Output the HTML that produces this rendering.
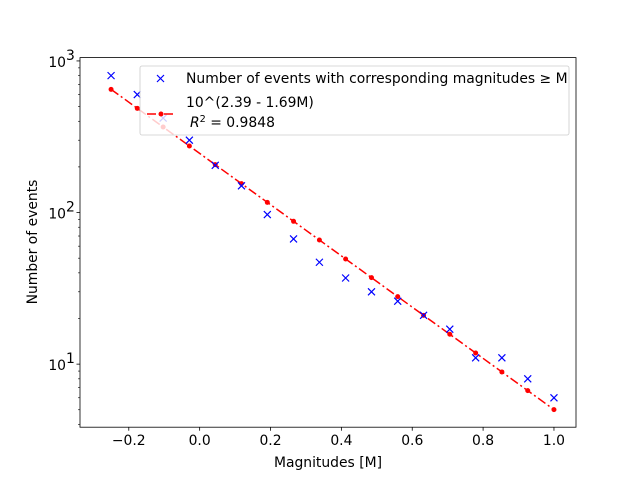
<!DOCTYPE html>
<html><head><meta charset="utf-8"><style>
body{margin:0;background:#fff}
svg text{font-family:"DejaVu Sans","Liberation Sans",sans-serif;font-size:13.9px;fill:#000}
</style></head><body>
<svg id="chart" width="640" height="480" xmlns="http://www.w3.org/2000/svg">
<rect width="640" height="480" fill="#fff"/>
<g id="plot"></g>
<rect x="80" y="57.6" width="496" height="369.6" fill="none" stroke="#000" stroke-width="0.8"/>
<g id="axes"></g>
<text x="328" y="467" text-anchor="middle">Magnitudes [M]</text>
<text transform="translate(37,242) rotate(-90)" text-anchor="middle">Number of events</text>
<g>
<rect x="140" y="66" width="429" height="69" rx="2" fill="#fff" fill-opacity="0.8" stroke="#ccc" stroke-width="0.8"/>
<path d="M157,75l7,7M164,75l-7,7" stroke="#0000ff" stroke-width="1.2"/>
<text x="186" y="83">Number of events with corresponding magnitudes ≥ M</text>
<line x1="147" y1="114" x2="175" y2="114" stroke="#ff0000" stroke-width="1.5" stroke-dasharray="9,3,2,3"/>
<circle cx="161" cy="114" r="2.5" fill="#ff0000"/>
<text x="186" y="107">10^(2.39 - 1.69M)</text>
<text x="190" y="127"><tspan font-style="italic">R</tspan><tspan font-size="9.7" dy="-5">2</tspan><tspan dy="5"> = 0.9848</tspan></text>
</g>
</svg>
<script>
const magnitudes=[-0.25,-0.176,-0.103,-0.029,0.044,0.118,0.191,0.265,0.338,0.412,0.485,0.559,0.632,0.706,0.779,0.853,0.926,1.0];
const counts=[800,600,420,300,205,150,97,67,47,37,30,26,21,17,11,11,8,6];
const fitA=[2.39];
const fitB=[1.69];
const xTicks=[-0.2,0.0,0.2,0.4,0.6,0.8,1.0];
const xTickLabels=["−0.2","0.0","0.2","0.4","0.6","0.8","1.0"];
const yTicks=[1,2,3];
const yTickLabels=["10","10","10"];
const NS="http://www.w3.org/2000/svg";
const X0=80,X1=576,Y0=427.2,Y1=57.6,xmin=-0.3377,xmax=1.0622,lmin=0.584,lmax=3.022;
const sx=v=>X0+(v-xmin)/(xmax-xmin)*(X1-X0);
const sy=v=>Y0-(Math.log10(v)-lmin)/(lmax-lmin)*(Y0-Y1);
function mk(t,a,p){const e=document.createElementNS(NS,t);for(const k in a)e.setAttribute(k,a[k]);p.appendChild(e);return e;}
const plot=document.getElementById('plot'),axes=document.getElementById('axes');
const fit=magnitudes.map(m=>Math.pow(10,fitA[0]-fitB[0]*m));
const fl=mk('polyline',{points:magnitudes.map((m,i)=>sx(m)+','+sy(fit[i])).join(' '),fill:'none',stroke:'#ff0000','stroke-width':1.5,'stroke-dasharray':'9,3,2,3'},plot);


magnitudes.forEach((m,i)=>{
 const c=mk('circle',{cx:sx(m),cy:sy(fit[i]),r:2.5,fill:'#ff0000'},plot);
 
 
 const x=sx(m),y=sy(counts[i]);
 const p=mk('path',{d:`M${x-3.5},${y-3.5}l7,7M${x+3.5},${y-3.5}l-7,7`,stroke:'#0000ff','stroke-width':1.2},plot);
 
 
});
xTicks.forEach((t,i)=>{
 const x=sx(t);
 mk('line',{x1:x,x2:x,y1:Y0,y2:Y0+3.5,stroke:'#000','stroke-width':0.8},axes);
 const tx=mk('text',{x:x,y:Y0+18,'text-anchor':'middle'},axes);tx.textContent=xTickLabels[i];
 
 
});
yTicks.forEach((t,i)=>{
 const y=sy(Math.pow(10,t));
 mk('line',{x1:X0,x2:X0-3.5,y1:y,y2:y,stroke:'#000','stroke-width':0.8},axes);
 const tx=mk('text',{x:X0-14,y:y+6,'text-anchor':'end'},axes);tx.textContent=yTickLabels[i];
 
 
 const s=mk('text',{x:X0-14,y:y-1,'font-size':9.7},axes);s.textContent=String(t);
});
for(let d=0;d<4;d++)for(let k=2;k<10;k++){const v=k*Math.pow(10,d);const l=Math.log10(v);if(l<lmin||l>lmax)continue;const y=sy(v);mk('line',{x1:X0,x2:X0-2,y1:y,y2:y,stroke:'#000','stroke-width':0.6},axes);}
</script>
</body></html>
